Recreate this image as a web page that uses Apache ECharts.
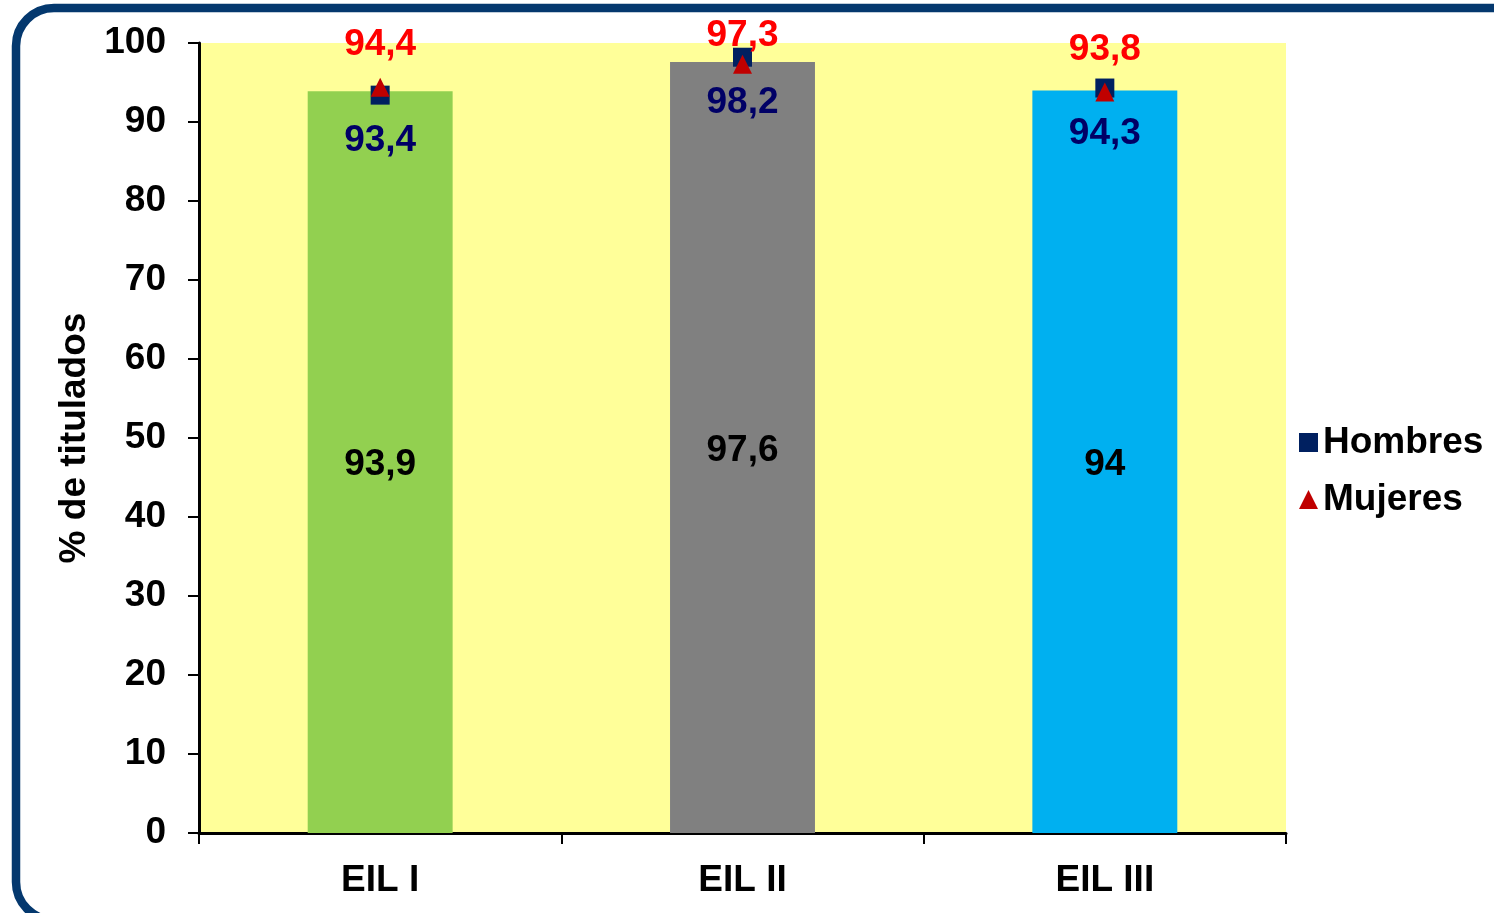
<!DOCTYPE html>
<html><head><meta charset="utf-8">
<script src="https://cdn.jsdelivr.net/npm/echarts@6/dist/echarts.min.js"></script>
<style>html,body{margin:0;padding:0;background:#fff;}#c{width:1494px;height:913px;}</style>
</head><body><div id="c"></div>
<script>
const categories = ['EIL I', 'EIL II', 'EIL III'];
const totalValues = [93.9, 97.6, 94];
const hombresValues = [93.4, 98.2, 94.3];
const mujeresValues = [94.4, 97.3, 93.8];
const yTicks = [0, 10, 20, 30, 40, 50, 60, 70, 80, 90, 100];

const FONT = '"Liberation Sans", Arial, sans-serif';
const FS = 37;
const fmt = v => String(v).replace('.', ',');
const barColors = ['#92D050', '#808080', '#00B0F0'];

const chart = echarts.init(document.getElementById('c'));
chart.setOption({
  animation: false,
  backgroundColor: '#ffffff',
  graphic: [{
    type: 'rect', z: -10, silent: true,
    shape: { x: 16, y: 8, width: 1530, height: 912, r: 38 },
    style: { fill: 'none', stroke: '#04386E', lineWidth: 8.5 }
  }],
  grid: { left: 199, right: 208, top: 43, bottom: 80, show: true, backgroundColor: '#FFFF99', borderWidth: 0 },
  legend: {
    orient: 'vertical', left: 1294, top: 419, itemWidth: 19, itemHeight: 19, itemGap: 20,
    textStyle: { fontFamily: FONT, fontWeight: 'bold', fontSize: FS, color: '#000', padding: [0, 0, 0, 0] },
    data: [
      { name: 'Hombres', icon: 'rect', itemStyle: { color: '#002060' } },
      { name: 'Mujeres', icon: 'triangle', itemStyle: { color: '#C00000' } }
    ]
  },
  xAxis: {
    type: 'category', data: categories,
    axisLine: { lineStyle: { color: '#000', width: 3 } },
    axisTick: { show: true, length: 11, lineStyle: { color: '#000', width: 2 } },
    axisLabel: { margin: 29, fontFamily: FONT, fontWeight: 'bold', fontSize: FS, color: '#000' }
  },
  yAxis: {
    type: 'value', min: 0, max: 100, interval: 10,
    name: '% de titulados', nameLocation: 'middle', nameGap: 104, nameRotate: 90,
    nameTextStyle: { fontFamily: FONT, fontWeight: 'bold', fontSize: FS, color: '#000' },
    axisLine: { show: true, lineStyle: { color: '#000', width: 3 } },
    axisTick: { show: true, length: 11, lineStyle: { color: '#000', width: 2 } },
    splitLine: { show: false },
    axisLabel: { margin: 33, fontFamily: FONT, fontWeight: 'bold', fontSize: FS, color: '#000',
      formatter: v => yTicks.includes(v) ? String(v) : '' }
  },
  series: [
    {
      type: 'bar', name: 'Total', barWidth: '40%',
      data: totalValues.map((v, i) => ({ value: v, itemStyle: { color: barColors[i] } })),
      label: { show: true, position: 'inside', offset: [0, 3], formatter: p => fmt(p.value),
        fontFamily: FONT, fontWeight: 'bold', fontSize: FS, color: '#000' }
    },
    {
      type: 'line', name: 'Hombres', data: hombresValues,
      lineStyle: { width: 0, opacity: 0 }, symbol: 'rect', symbolSize: 19,
      itemStyle: { color: '#002060' },
      label: { show: true, position: 'bottom', distance: 18, formatter: p => fmt(p.value),
        fontFamily: FONT, fontWeight: 'bold', fontSize: FS, color: '#000066' }
    },
    {
      type: 'line', name: 'Mujeres',
      data: mujeresValues.map((v, i) => i === 1 ? { value: v, label: { offset: [0, 13] } } : v),
      lineStyle: { width: 0, opacity: 0 }, symbol: 'triangle', symbolSize: 19,
      itemStyle: { color: '#C00000' },
      label: { show: true, position: 'top', distance: 14, formatter: p => fmt(p.value),
        fontFamily: FONT, fontWeight: 'bold', fontSize: FS, color: '#FF0000' }
    }
  ]
});
</script></body></html>
